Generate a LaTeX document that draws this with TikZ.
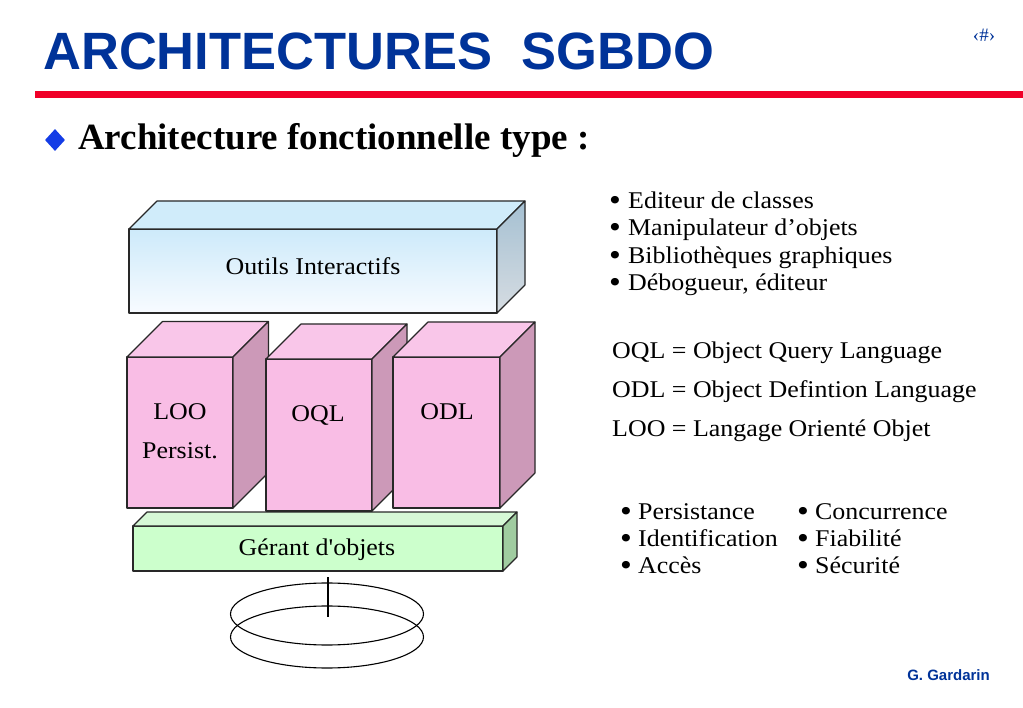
\documentclass[tikz,border=0pt]{standalone}
\usepackage{fontspec}
\usepackage{graphicx}
\setmainfont{Liberation Serif}
\newfontfamily\palfont[FakeStretch=1.08]{Liberation Serif}
\newfontfamily\arialfont{Liberation Sans}
\newfontfamily\timesfont{Liberation Serif}
\usetikzlibrary{shapes.geometric}
\definecolor{titleblue}{RGB}{0,51,153}
\definecolor{rulered}{RGB}{240,0,40}
\definecolor{diamondblue}{RGB}{20,60,230}
\definecolor{edgecol}{RGB}{40,40,40}
\definecolor{blueTop}{RGB}{208,236,250}
\definecolor{blueFrontA}{RGB}{205,234,250}
\definecolor{blueFrontB}{RGB}{248,251,255}
\definecolor{blueSideA}{RGB}{165,192,210}
\definecolor{blueSideB}{RGB}{214,220,226}
\definecolor{pinkFront}{RGB}{249,189,229}
\definecolor{pinkTop}{RGB}{249,198,233}
\definecolor{pinkSide}{RGB}{204,153,184}
\definecolor{greenFront}{RGB}{204,255,204}
\definecolor{greenTop}{RGB}{214,248,214}
\definecolor{greenSide}{RGB}{160,204,160}
\newcommand\boxfont{\palfont\fontsize{24}{28}\selectfont}
\newcommand\bigbul{\smash{\raisebox{-2pt}{\scalebox{1.3}{•}}}}
\newcommand\boxsides[5]{%
  \filldraw[edge, fill=#3] (#1.north west) -- ++(#2,-#2) -- ([shift={(#2,-#2)}]#1.north east) -- (#1.north east) -- cycle;
  \path[edge, top color=#4, bottom color=#5] (#1.north east) -- ++(#2,-#2) -- ([shift={(#2,-#2)}]#1.south east) -- (#1.south east) -- cycle;}
\begin{document}
\begin{tikzpicture}[x=1pt,y=-1pt,
  edge/.style={draw=edgecol, line width=1.1pt, line join=round},
  front/.style={edge, inner sep=0pt, outer sep=0pt},
  lbl/.style={inner sep=0pt, anchor=base, font=\boxfont},
  txt/.style={inner sep=0pt, anchor=base west, font=\boxfont},
  bul/.style={inner sep=0pt, anchor=base west, font=\boxfont}]
\useasboundingbox (0,0) rectangle (1023,708);
\fill[white] (0,0) rectangle (1023,708);
% header
\node[inner sep=0pt, anchor=base west, text=titleblue, font=\arialfont\bfseries\fontsize{52.5}{60}\selectfont] (title) at (43,70) {ARCHITECTURES\ \ SGBDO};
\node[inner sep=0pt, anchor=base, text=titleblue, font=\timesfont\fontsize{19}{22}\selectfont] (pagenum) at (984,42) {‹\#›};
\coordinate (ruleL) at (35,95);
\coordinate (ruleR) at (1023,95);
\draw[rulered, line width=7pt] (ruleL) -- (ruleR);
\node[diamond, fill=diamondblue, inner sep=0pt, minimum width=20pt, minimum height=22pt] (dia) at (55,140) {};
\node[inner sep=0pt, anchor=base west, font=\timesfont\bfseries\fontsize{37}{42}\selectfont] (subtitle) at (78,150) {Architecture fonctionnelle type :};
% Outils Interactifs
\node[front, top color=blueFrontA, bottom color=blueFrontB, minimum width=368pt, minimum height=84pt] (outils) at (313,271) {};
\boxsides{outils}{28}{blueTop}{blueSideA}{blueSideB}
\node[lbl] (outilsT) at (313,275) {Outils Interactifs};
% Gerant
\node[front, fill=greenFront, minimum width=370pt, minimum height=45pt] (gerant) at (318,548.5) {};
\boxsides{gerant}{14}{greenTop}{greenSide}{greenSide}
\node[lbl] (gerantT) at (317,555) {Gérant d'objets};
% LOO
\node[front, fill=pinkFront, minimum width=106pt, minimum height=151pt] (loo) at (180,432.5) {};
\boxsides{loo}{35.5}{pinkTop}{pinkSide}{pinkSide}
\node[lbl] (looT) at (180,420) {LOO};
\node[lbl] (persT) at (180,458) {Persist.};
% OQL
\node[front, fill=pinkFront, minimum width=106pt, minimum height=152pt] (oql) at (319,435) {};
\boxsides{oql}{35}{pinkTop}{pinkSide}{pinkSide}
\node[lbl] (oqlT) at (318,422) {OQL};
% ODL
\node[front, fill=pinkFront, minimum width=107pt, minimum height=151pt] (odl) at (446.5,432.5) {};
\boxsides{odl}{35}{pinkTop}{pinkSide}{pinkSide}
\node[lbl] (odlT) at (447,420) {ODL};
% disk
\node[draw=black, line width=1.1pt, ellipse, inner sep=0pt, minimum width=193pt, minimum height=62pt] (diskB) at (327,637) {};
\node[draw=black, line width=1.1pt, ellipse, inner sep=0pt, minimum width=193pt, minimum height=62pt] (diskT) at (327,614) {};
\coordinate (axT) at (328,577);
\coordinate (axB) at (328,617);
\draw[line width=1.1pt] (axT) -- (axB);
% right texts
\node[bul] (r1) at (609,209) {\makebox[19pt][l]{\bigbul}Editeur de classes};
\node[bul] (r2) at (609,236) {\makebox[19pt][l]{\bigbul}Manipulateur d’objets};
\node[bul] (r3) at (609,263.5) {\makebox[19pt][l]{\bigbul}Bibliothèques graphiques};
\node[bul] (r4) at (609,291) {\makebox[19pt][l]{\bigbul}Débogueur, éditeur};
\node[txt] (d1) at (612,359) {OQL = Object Query Language};
\node[txt] (d2) at (612,397.5) {ODL = Object Defintion Language};
\node[txt] (d3) at (612,436) {LOO = Langage Orienté Objet};
\node[bul] (p1) at (620,519) {\makebox[18pt][l]{\bigbul}Persistance};
\node[bul] (p2) at (620,546) {\makebox[18pt][l]{\bigbul}Identification};
\node[bul] (p3) at (620,573) {\makebox[18pt][l]{\bigbul}Accès};
\node[bul] (q1) at (797,519) {\makebox[18pt][l]{\bigbul}Concurrence};
\node[bul] (q2) at (797,546) {\makebox[18pt][l]{\bigbul}Fiabilité};
\node[bul] (q3) at (797,573) {\makebox[18pt][l]{\bigbul}Sécurité};
\node[inner sep=0pt, anchor=base east, text=titleblue, font=\arialfont\bfseries\fontsize{15}{18}\selectfont] (author) at (990,680) {G. Gardarin};
\end{tikzpicture}
\end{document}
